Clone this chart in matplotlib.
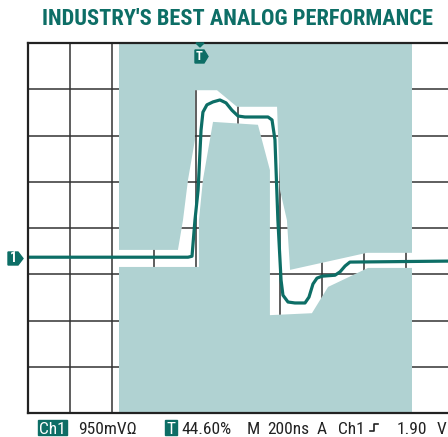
import matplotlib.pyplot as plt
from matplotlib.patches import Polygon, Rectangle
import numpy as np

# scope settings
ns_per_div = 200
v_per_div = 0.95
n_xdiv = 10
n_ydiv = 8

# captured waveform (ns from left edge, volts from centre line)
trace_t = [0, 762, 781, 795, 810, 824, 833, 852, 881, 914, 943, 971, 1000, 1033,
           1143, 1162, 1176, 1190, 1205, 1214, 1238, 1271, 1319, 1338, 1357, 1376,
           1400, 1462, 1486, 1510, 1533, 2000]
trace_v = [-0.60, -0.60, -0.58, 0.16, 0.78, 2.01, 2.38, 2.53, 2.59, 2.63, 2.57, 2.42,
           2.30, 2.28, 2.28, 2.22, 1.81, 0.16, -1.07, -1.38, -1.52, -1.54, -1.54,
           -1.42, -1.15, -1.03, -0.99, -0.97, -0.90, -0.78, -0.70, -0.68]

# shaded mask window and the pass envelope cut out of it
mask_t = [433, 1829]
env_t = [414, 714, 738, 762, 795, 795, 900, 995, 1186, 1200, 1233, 1248, 1614, 1843,
         1843, 1619, 1429, 1352, 1152, 1152, 1095, 881, 833, 814, 814, 414]
env_v = [-0.45, -0.45, 0.16, 0.99, 1.81, 2.83, 2.83, 2.49, 2.49, 0.78, 0.16, -0.86,
         -0.51, -0.51, -0.82, -0.82, -1.21, -1.75, -1.79, 1.19, 2.12, 2.18, 0.99,
         0.16, -0.80, -0.80]

title = "INDUSTRY'S BEST ANALOG PERFORMANCE"
teal = '#0d6e66'
mask_col = '#b0d2d2'
grid_col = '#333333'
narrow = ['Roboto Condensed', 'Archivo Narrow', 'DejaVu Sans']

W, H = 448, 437
fig = plt.figure(figsize=(W / 100, H / 100), dpi=100)
ax = fig.add_axes([28 / W, (H - 413) / H, 1 - 28 / W, 370 / H])
xmax = ns_per_div * n_xdiv
ymax = v_per_div * n_ydiv / 2
ax.set_xlim(0, xmax)
ax.set_ylim(-ymax, ymax)
ax.set_xticks([])
ax.set_yticks([])

gx = np.arange(1, n_xdiv) * ns_per_div
gy = (np.arange(1, n_ydiv) - n_ydiv / 2) * v_per_div


def draw_grid(z, clip=None):
    vl = ax.vlines(gx, -ymax, ymax, color=grid_col, lw=1.1, zorder=z)
    hl = ax.hlines(gy, 0, xmax, color=grid_col, lw=1.1, zorder=z)
    if clip is not None:
        vl.set_clip_path(clip)
        hl.set_clip_path(clip)


draw_grid(1)
ax.add_patch(Rectangle((mask_t[0], -ymax), mask_t[1] - mask_t[0], 2 * ymax,
                       facecolor=mask_col, edgecolor='none', zorder=2))
env = Polygon(np.column_stack([env_t, env_v]), closed=True, facecolor='white',
              edgecolor='none', zorder=3)
ax.add_patch(env)
draw_grid(4, clip=env)

ax.plot(trace_t, trace_v, color=teal, lw=2.3, solid_joinstyle='round',
        solid_capstyle='butt', zorder=5, clip_on=False)

for s in ['top', 'left', 'bottom']:
    ax.spines[s].set_linewidth(1.6)
    ax.spines[s].set_color('#222222')
    ax.spines[s].set_zorder(6)
ax.spines['right'].set_visible(False)

# overlay in pixel units for the scope chrome
ov = fig.add_axes([0, 0, 1, 1], zorder=10)
ov.set_xlim(0, W)
ov.set_ylim(H, 0)
ov.axis('off')

ov.text(237, 25, title, color=teal, fontsize=16.1, fontweight='bold',
        family=narrow, ha='center', va='baseline')

# trigger markers
ov.add_patch(Polygon([[196, 43], [204, 43], [200, 47]], color=teal))
ov.add_patch(Polygon([[195, 50], [204, 50], [208, 56.5], [204, 63], [195, 63]], color=teal))
ov.text(199.5, 57, 'T', color='white', fontsize=9, fontweight='bold', family=narrow,
        ha='center', va='center')
# channel 1 ground marker
ov.add_patch(Polygon([[8, 252], [18, 252], [23, 258.5], [18, 265], [8, 265]], color=teal))
ov.text(13, 258.5, '1', color='white', fontsize=10, fontweight='bold', family=narrow,
        ha='center', va='center')

# status line
base = 434
ov.add_patch(Rectangle((38, 420), 29, 14.5, color=teal))
ov.text(52.5, base, 'Ch1', color='white', fontsize=12.5, family=narrow, ha='center', va='baseline')
ov.add_patch(Rectangle((165, 420), 12, 14.5, color=teal))
ov.text(171, base, 'T', color='white', fontsize=12.5, family=narrow, ha='center', va='baseline')
status = [(78, '950mVΩ'), (181, '44.60%'), (247, 'M'), (267, '200ns'), (317, 'A'),
          (338, 'Ch1'), (397, '1.90'), (437, 'V')]
for x, s in status:
    ov.text(x, base, s, color='#222222', fontsize=12.5, family=narrow, ha='left', va='baseline')
ov.plot([370, 374, 374, 378], [431, 431, 424, 424], color='#222222', lw=1.2)

fig.savefig('out.png', dpi=100)
